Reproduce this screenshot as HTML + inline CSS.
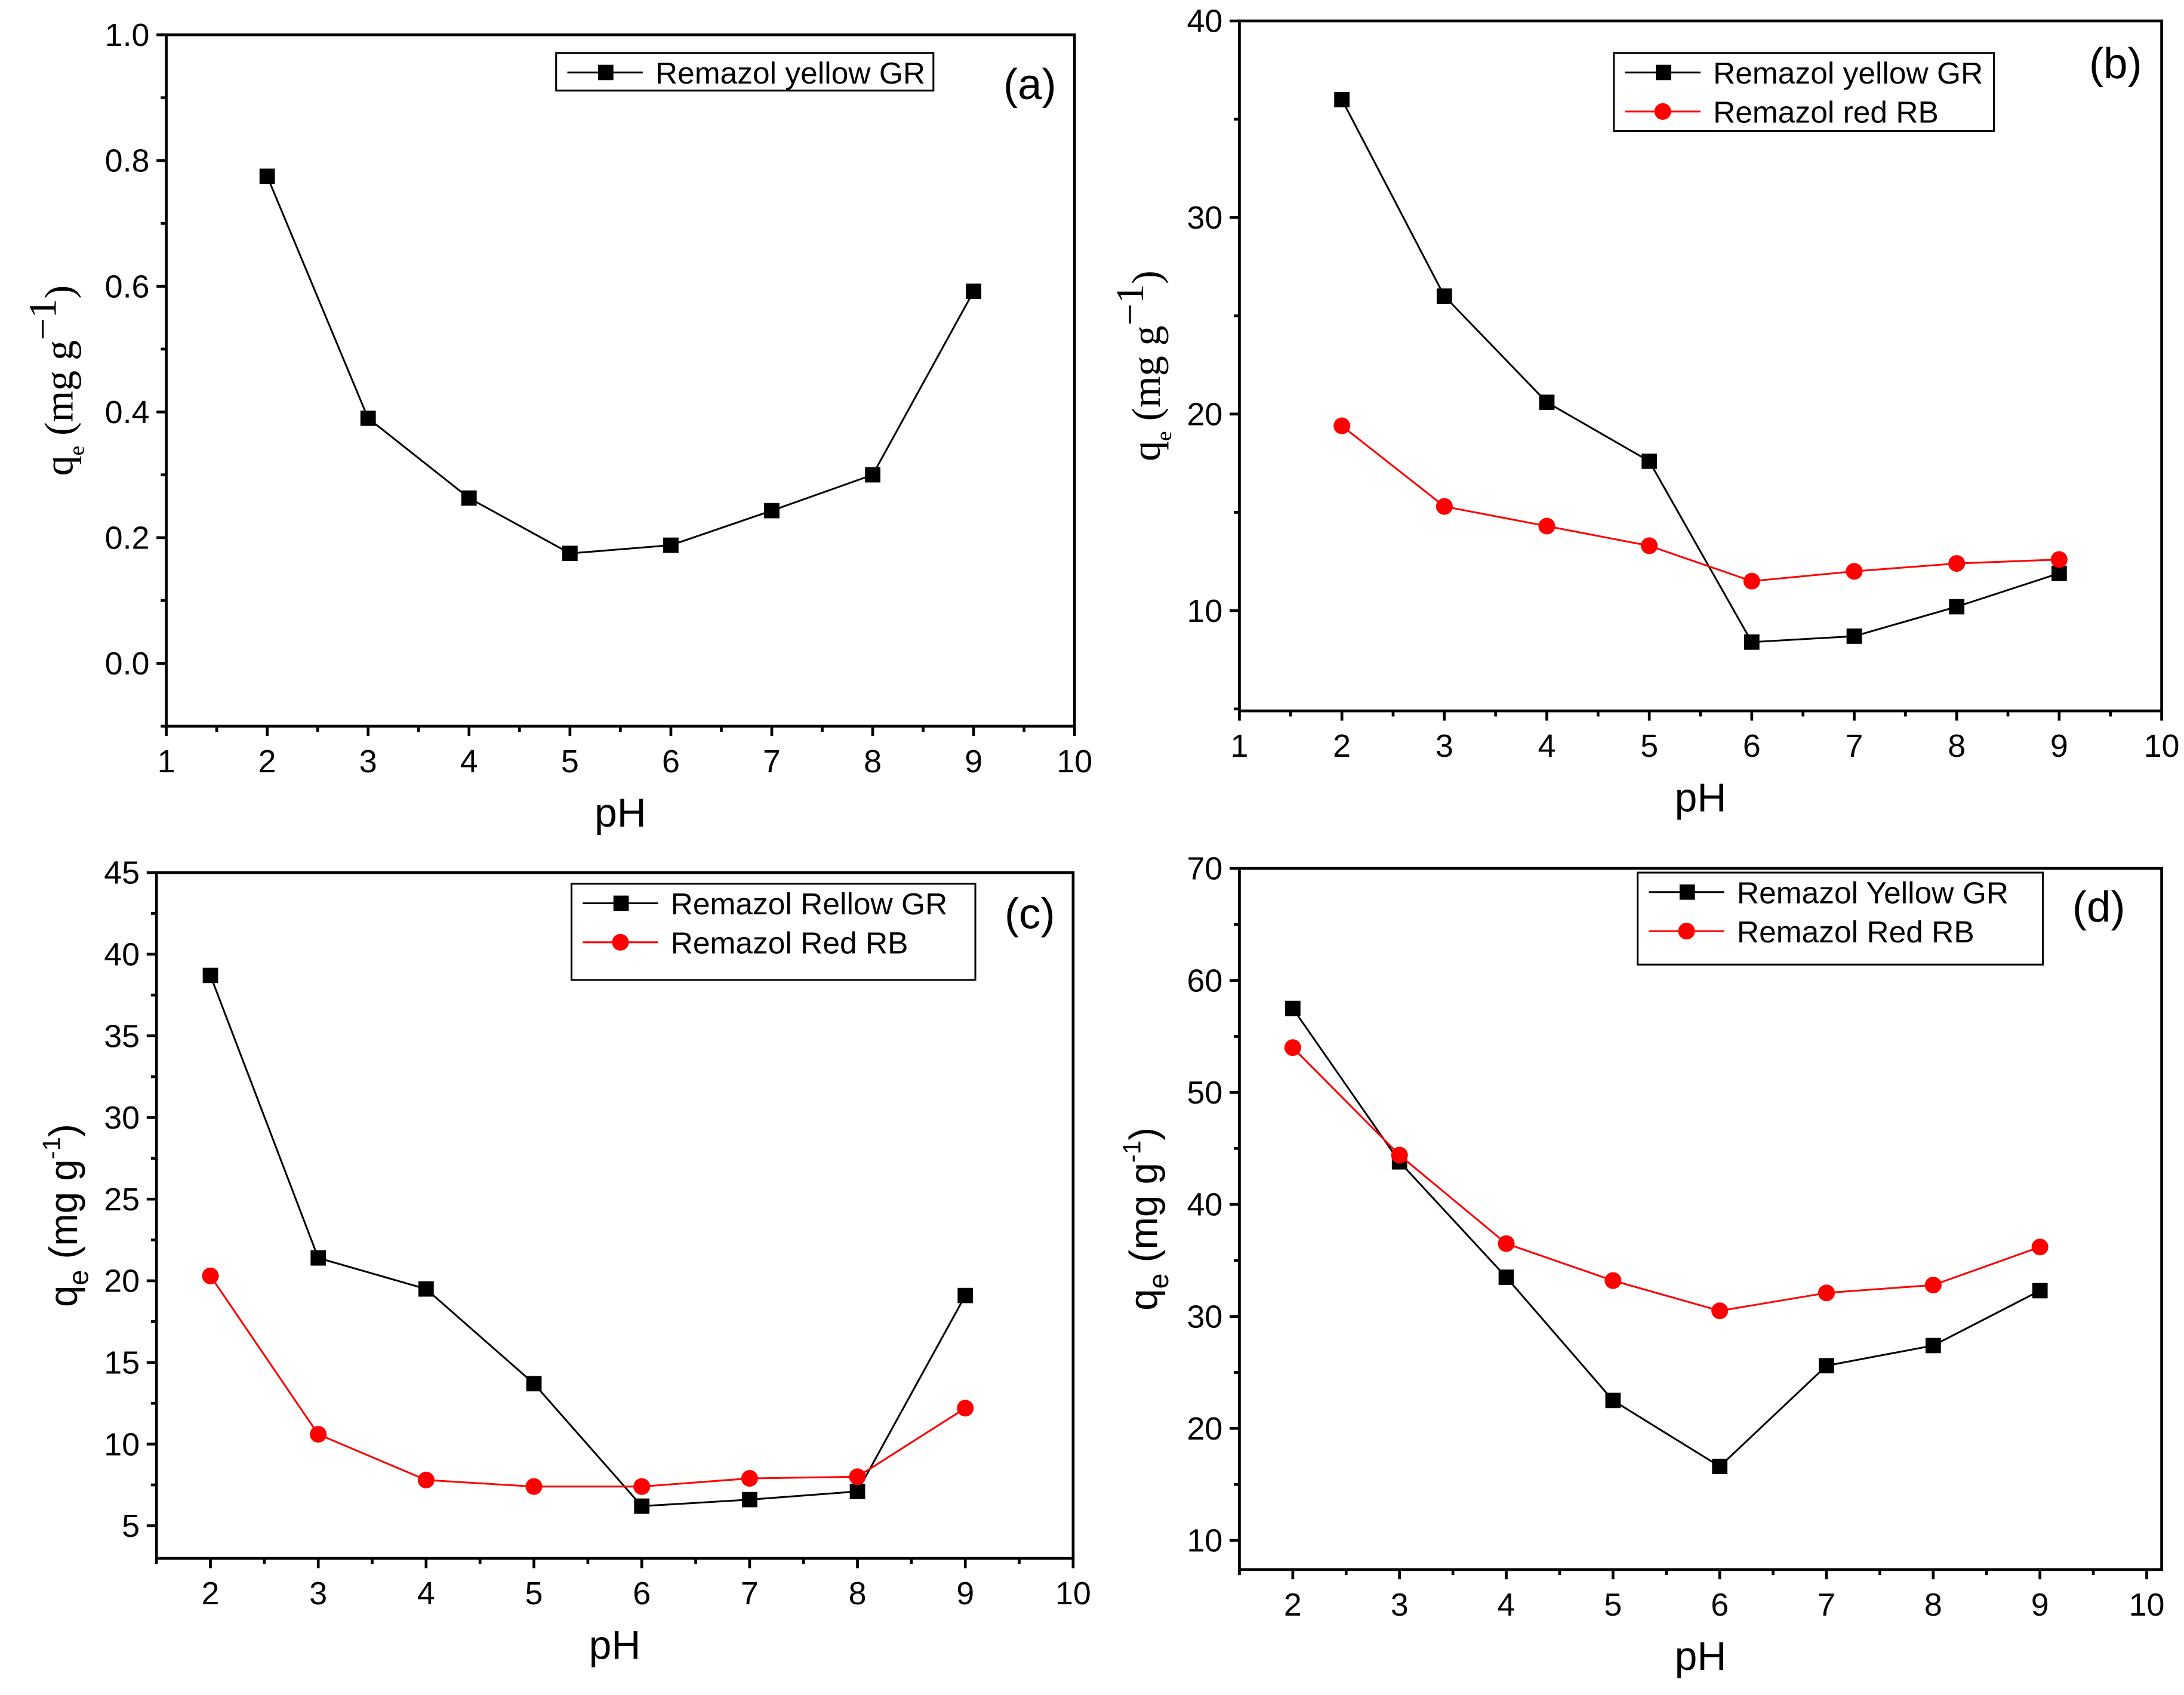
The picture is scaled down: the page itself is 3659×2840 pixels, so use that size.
<!DOCTYPE html>
<html><head><meta charset="utf-8"><style>
html,body{margin:0;padding:0;background:#fff;}
svg{display:block;font-family:"Liberation Sans",Arial,sans-serif;}
</style></head><body>
<svg id="fig" width="3659" height="2840" viewBox="0 0 1563 1216" preserveAspectRatio="none" xmlns="http://www.w3.org/2000/svg"></svg>
<script>
const phValues = [2,3,4,5,6,7,8,9];
const aYellow = [0.775,0.39,0.263,0.175,0.188,0.243,0.30,0.592];
const bYellow = [36,26,20.6,17.6,8.4,8.7,10.2,11.9];
const bRed = [19.4,15.3,14.3,13.3,11.5,12.0,12.4,12.6];
const cYellow = [38.7,21.4,19.5,13.7,6.2,6.6,7.1,19.1];
const cRed = [20.3,10.6,7.8,7.4,7.4,7.9,8.0,12.2];
const dYellow = [57.5,43.8,33.5,22.5,16.6,25.6,27.4,32.3];
const dRed = [54,44.4,36.5,33.2,30.5,32.1,32.8,36.2];
const aYTicks = ["0.0","0.2","0.4","0.6","0.8","1.0"];
const bYTicks = ["10","20","30","40"];
const cYTicks = ["5","10","15","20","25","30","35","40","45"];
const dYTicks = ["10","20","30","40","50","60","70"];
const abXTicks = ["1","2","3","4","5","6","7","8","9","10"];
const cdXTicks = ["2","3","4","5","6","7","8","9","10"];

const NS="http://www.w3.org/2000/svg";
const svg=document.getElementById('fig');
function mk(tag,attrs,parent,text){const e=document.createElementNS(NS,tag);for(const k in attrs)e.setAttribute(k,attrs[k]);if(text!==undefined)e.textContent=text;(parent||svg).appendChild(e);return e;}

function panel(cfg){
  const g=mk('g',{});
  
  
  const {L,R,T,B,x0,x1,y0,y1}=cfg;
  const sx=v=>L+(v-x0)/(x1-x0)*(R-L);
  const sy=v=>B-(v-y0)/(y1-y0)*(B-T);
  const frame=mk('rect',{x:L,y:T,width:R-L,height:B-T,fill:'none',stroke:'#000','stroke-width':2},g);
  
  
  cfg.xTicks.forEach(t=>{const v=+t;const x=sx(v);
    mk('line',{x1:x,x2:x,y1:B,y2:B+7,stroke:'#000','stroke-width':2},g);
    const tl=mk('text',{x:x,y:B+33,'font-size':23,'text-anchor':'middle'},g,t);
    
    
    const m=v+0.5; if(m<=x1) {const xm=sx(m);mk('line',{x1:xm,x2:xm,y1:B,y2:B+4,stroke:'#000','stroke-width':2},g);}
  });
  if(cfg.xMinorStart){const xm=sx(cfg.xMinorStart);if(xm>=L)mk('line',{x1:xm,x2:xm,y1:B,y2:B+4,stroke:'#000','stroke-width':2},g);}
  const ys=cfg.yTicks.map(Number);const step=ys[1]-ys[0];
  cfg.yTicks.forEach(t=>{const v=+t;const y=sy(v);
    mk('line',{x1:L-7,x2:L,y1:y,y2:y,stroke:'#000','stroke-width':2},g);
    const tl=mk('text',{x:L-12,y:y+8,'font-size':23,'text-anchor':'end'},g,t);
    
    
  });
  for(let v=ys[0]-step/2; v<=y1+1e-9; v+=step){ if(v<y0-1e-9)continue; if(Math.abs(((v-ys[0])/step)%1)<1e-6)continue;
    const y=sy(v);mk('line',{x1:L-4,x2:L,y1:y,y2:y,stroke:'#000','stroke-width':2},g);}
  const xt=mk('text',{x:(L+R)/2,y:B+72,'font-size':29,'text-anchor':'middle'},g,'pH');
  
  
  const yt=mk('text',{transform:`translate(${cfg.ytx},${(T+B)/2}) rotate(-90)`,'font-size':cfg.serif?29:28,'text-anchor':'middle','font-family':cfg.serif?'"Liberation Serif",serif':'"Liberation Sans",sans-serif'},g);
  
  
  mk('tspan',{},yt,'q');
  mk('tspan',{'font-size':cfg.serif?16:20,dy:8},yt,'e');
  mk('tspan',{dy:-8},yt,' (mg g');
  mk('tspan',{'font-size':cfg.serif?28:18,dy:-12},yt,cfg.serif?'\u22121':'-1');
  mk('tspan',{dy:12},yt,')');
  cfg.series.forEach(s=>{
    const pts=phValues.map((p,i)=>sx(p)+','+sy(s.data[i])).join(' ');
    const pl=mk('polyline',{points:pts,fill:'none',stroke:s.color,'stroke-width':1.3},g);
    
    
    phValues.forEach((p,i)=>{
      let m;
      if(s.shape==='sq') m=mk('rect',{x:sx(p)-5.5,y:sy(s.data[i])-5.5,width:11,height:11,fill:s.color},g);
      else m=mk('circle',{cx:sx(p),cy:sy(s.data[i]),r:6,fill:s.color},g);
      
      
    });
  });
  const lg=cfg.legend;
  const lb=mk('rect',{x:lg.x,y:lg.y,width:lg.w,height:lg.h,fill:'#fff',stroke:'#000','stroke-width':1.3},g);
  
  
  cfg.series.forEach((s,i)=>{
    const cy=lg.y+14+i*28;const lx=lg.x+8;
    mk('line',{x1:lx,x2:lx+54,y1:cy,y2:cy,stroke:s.color,'stroke-width':1.3},g);
    if(s.shape==='sq') mk('rect',{x:lx+22,y:cy-5.5,width:11,height:11,fill:s.color},g);
    else mk('circle',{cx:lx+27,cy:cy,r:6,fill:s.color},g);
    const t=mk('text',{x:lx+63,y:cy+8,'font-size':22},g,s.label);
    
    
  });
  const pl=mk('text',{x:cfg.lab[0],y:cfg.lab[1],'font-size':31,'text-anchor':'middle'},g,'('+cfg.id+')');
  
  
}

panel({id:'a',L:119,R:769,T:25,B:521,x0:1,x1:10,y0:-0.1,y1:1.0,xTicks:abXTicks,yTicks:aYTicks,ytx:52,serif:true,
  series:[{key:'yellow',data:aYellow,color:'#000',shape:'sq',label:'Remazol yellow GR'}],
  legend:{x:398,y:38,w:270,h:27},lab:[737,71]});
panel({id:'b',L:887,R:1547,T:15,B:510,x0:1,x1:10,y0:4.9,y1:40,xTicks:abXTicks,yTicks:bYTicks,ytx:830,serif:true,
  series:[{key:'yellow',data:bYellow,color:'#000',shape:'sq',label:'Remazol yellow GR'},{key:'red',data:bRed,color:'#ff0000',shape:'ci',label:'Remazol red RB'}],
  legend:{x:1155,y:38,w:272,h:56},lab:[1514,56]});
panel({id:'c',L:112,R:768,T:626,B:1118,x0:1.5,x1:10,y0:3,y1:45,xTicks:cdXTicks,xMinorStart:1.5,yTicks:cYTicks,ytx:55,serif:false,
  series:[{key:'yellow',data:cYellow,color:'#000',shape:'sq',label:'Remazol Rellow GR'},{key:'red',data:cRed,color:'#ff0000',shape:'ci',label:'Remazol Red RB'}],
  legend:{x:409,y:634,w:289,h:69},lab:[737,666]});
panel({id:'d',L:887,R:1547,T:623,B:1126,x0:1.5,x1:10.14,y0:7.4,y1:70,xTicks:cdXTicks,xMinorStart:1.5,yTicks:dYTicks,ytx:828,serif:false,
  series:[{key:'yellow',data:dYellow,color:'#000',shape:'sq',label:'Remazol Yellow GR'},{key:'red',data:dRed,color:'#ff0000',shape:'ci',label:'Remazol Red RB'}],
  legend:{x:1172,y:626,w:290,h:66},lab:[1502,661]});
</script>
</body></html>
